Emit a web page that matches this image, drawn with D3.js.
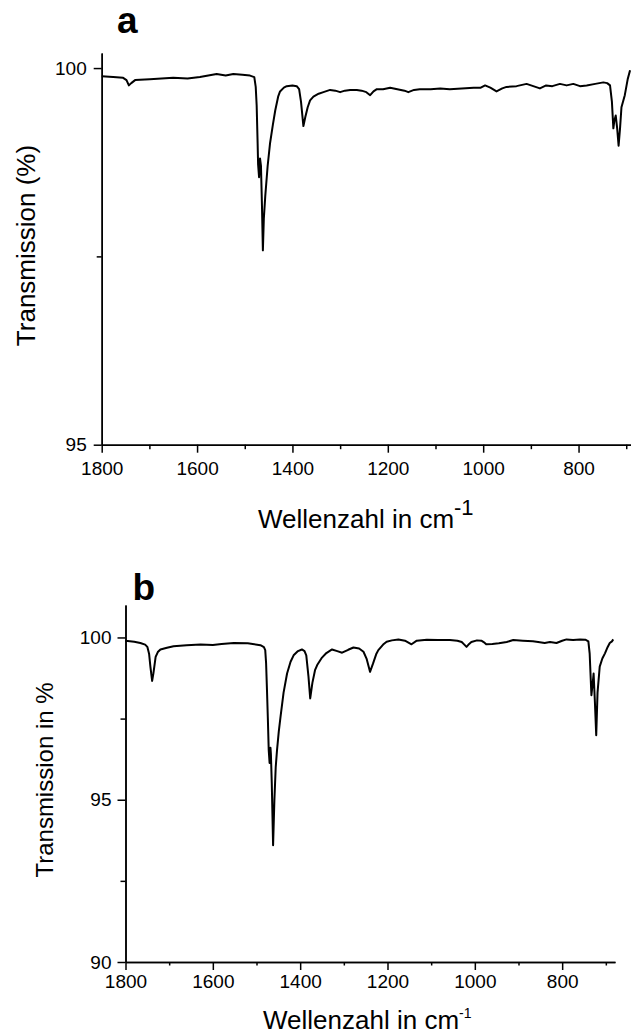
<!DOCTYPE html>
<html>
<head>
<meta charset="utf-8">
<script src="https://cdn.jsdelivr.net/npm/d3@7"></script>
<style>
  body { margin: 0; background: #fff; }
  svg { display: block; }
  text { font-family: "Liberation Sans", Arial, sans-serif; fill: #000; }
  .axis path, .axis line { stroke: #000; stroke-width: 1.5; }
  .axis text { font-size: 19px; }
</style>
</head>
<body>
<svg id="chart" width="631" height="1034"></svg>
<script>
// spectrum a (wavenumber, transmission %)
var waveA = [1800, 1776, 1755, 1748, 1743, 1738, 1730, 1699, 1650, 1620, 1594, 1559, 1540, 1524, 1505, 1489, 1480, 1477, 1475, 1473,
  1472, 1470, 1468, 1466, 1464, 1462, 1460, 1457, 1452, 1447, 1441, 1436, 1430, 1426, 1418, 1412, 1400, 1391, 1386, 1382,
  1377, 1373, 1368, 1363, 1356, 1345, 1335, 1321, 1310, 1300, 1290, 1279, 1265, 1255, 1245, 1237, 1230, 1223, 1210, 1195,
  1180, 1165, 1157, 1145, 1133, 1110, 1090, 1070, 1045, 1020, 1005, 996, 985, 972, 960, 951, 930, 909, 895, 881,
  868, 855, 839, 825, 811, 797, 783, 765, 748, 740, 734, 730, 727, 725, 722, 719, 716, 713, 710, 703, 697, 692];
var transA = [99.89, 99.88, 99.87, 99.84, 99.77, 99.80, 99.84, 99.85, 99.87, 99.86, 99.88, 99.92, 99.90, 99.92, 99.91, 99.90, 99.88, 99.75, 99.50, 99.0,
  98.72, 98.55, 98.80, 98.70, 98.2, 97.58, 98.0, 98.3, 98.7, 99.0, 99.25, 99.44, 99.62, 99.69, 99.74, 99.76, 99.77, 99.76, 99.72, 99.55,
  99.23, 99.35, 99.48, 99.57, 99.62, 99.66, 99.68, 99.71, 99.70, 99.68, 99.70, 99.71, 99.71, 99.70, 99.68, 99.64, 99.69, 99.72, 99.72, 99.74,
  99.72, 99.70, 99.68, 99.71, 99.72, 99.72, 99.73, 99.72, 99.73, 99.74, 99.74, 99.77, 99.74, 99.69, 99.73, 99.75, 99.76, 99.79, 99.76, 99.73,
  99.77, 99.76, 99.79, 99.77, 99.79, 99.76, 99.77, 99.79, 99.81, 99.80, 99.77, 99.55, 99.20, 99.30, 99.37, 99.2, 98.97, 99.2, 99.48, 99.64, 99.85, 99.97];

// spectrum b
var waveB = [1800, 1780, 1766, 1755, 1750, 1746, 1743, 1739, 1736, 1731, 1726, 1720, 1705, 1690, 1660, 1628, 1600, 1580, 1552, 1520,
  1491, 1483, 1480, 1478, 1476, 1474, 1472, 1470, 1468, 1467, 1465, 1462, 1459, 1456, 1453, 1449, 1445, 1438, 1430, 1422,
  1415, 1405, 1396, 1390, 1386, 1381, 1377, 1372, 1366, 1361, 1350, 1340, 1327, 1315, 1304, 1290, 1278, 1265, 1255, 1248,
  1240, 1233, 1226, 1221, 1210, 1202, 1190, 1175, 1160, 1145, 1133, 1110, 1085, 1057, 1040, 1030, 1024, 1019, 1013, 1008,
  995, 985, 979, 974, 960, 945, 927, 912, 890, 867, 855, 840, 828, 813, 800, 790, 775, 759, 747, 740,
  737, 733, 730, 728, 725, 722, 719, 714, 708, 702, 696, 691, 686, 683];
var transB = [99.90, 99.87, 99.83, 99.78, 99.71, 99.5, 99.1, 98.66, 98.9, 99.40, 99.55, 99.63, 99.68, 99.73, 99.76, 99.78, 99.77, 99.80, 99.83, 99.82,
  99.76, 99.70, 99.61, 99.2, 98.38, 97.5, 96.53, 96.13, 96.6, 96.4, 95.5, 93.60, 95.0, 96.0, 96.53, 97.1, 97.55, 98.3, 98.89, 99.25,
  99.45, 99.58, 99.63, 99.58, 99.45, 98.8, 98.12, 98.6, 98.99, 99.15, 99.38, 99.52, 99.63, 99.58, 99.53, 99.62, 99.69, 99.66, 99.56, 99.35,
  98.94, 99.2, 99.48, 99.61, 99.78, 99.87, 99.91, 99.94, 99.90, 99.79, 99.90, 99.93, 99.92, 99.92, 99.90, 99.86, 99.78, 99.71, 99.80, 99.86,
  99.91, 99.90, 99.85, 99.79, 99.80, 99.82, 99.86, 99.92, 99.90, 99.88, 99.86, 99.83, 99.86, 99.83, 99.90, 99.94, 99.92, 99.94, 99.93, 99.88,
  99.5, 98.22, 98.6, 98.89, 98.0, 96.99, 98.3, 99.10, 99.35, 99.51, 99.70, 99.83, 99.88, 99.94];

var xTicks = [1800, 1600, 1400, 1200, 1000, 800];
var xMinor = [1700, 1500, 1300, 1100, 900, 700];
var yTicksA = [95, 100], yMinorA = [97.5];
var yTicksB = [90, 95, 100], yMinorB = [92.5, 97.5];

var svg = d3.select("#chart");
var fmt = d3.format("d");

function drawPanel(p) {
  var x = d3.scaleLinear().domain(p.xDomain).range([p.left, p.right]);
  var y = d3.scaleLinear().domain(p.yDomain).range([p.bottom, p.top]);
  var g = svg.append("g");

  // minor ticks first, then the major axis on top
  g.append("g").attr("class", "axis").attr("transform", "translate(0," + p.bottom + ")")
    .call(d3.axisBottom(x).tickValues(xMinor).tickSize(p.minorLen).tickSizeOuter(0).tickFormat(""));
  g.append("g").attr("class", "axis").attr("transform", "translate(0," + p.bottom + ")")
    .call(d3.axisBottom(x).tickValues(xTicks).tickSize(8).tickSizeOuter(0).tickPadding(p.xPad).tickFormat(fmt));
  g.append("g").attr("class", "axis").attr("transform", "translate(" + p.left + ",0)")
    .call(d3.axisLeft(y).tickValues(p.yMinor).tickSize(5).tickSizeOuter(0).tickFormat(""));
  g.append("g").attr("class", "axis").attr("transform", "translate(" + p.left + ",0)")
    .call(d3.axisLeft(y).tickValues(p.yTicks).tickSize(8).tickSizeOuter(0).tickPadding(p.yPad).tickFormat(fmt));

  var line = d3.line().x(function(d) { return x(d[0]); }).y(function(d) { return y(d[1]); });
  g.append("path")
    .datum(d3.zip(p.wave, p.trans))
    .attr("d", line)
    .attr("fill", "none")
    .attr("stroke", "#000")
    .attr("stroke-width", 2)
    .attr("stroke-linejoin", "round");

  // panel letter
  g.append("text").attr("x", p.letterX).attr("y", p.letterY)
    .style("font-size", "37px").style("font-weight", "bold").text(p.letter);

  // y title
  g.append("text")
    .attr("transform", "translate(" + p.yTitleX + "," + p.yTitleY + ") rotate(-90)")
    .attr("text-anchor", "middle")
    .style("font-size", p.yTitleSize + "px")
    .text(p.yTitle);

  // x title with superscript
  var t = g.append("text").attr("x", p.xTitleX).attr("y", p.xTitleY).style("font-size", "26px");
  t.append("tspan").text("Wellenzahl in cm");
  t.append("tspan").attr("dy", -p.supRaise).style("font-size", p.supSize + "px").text("-1");
}

drawPanel({
  wave: waveA, trans: transA,
  xDomain: [1800, 690], yDomain: [95, 100.2],
  left: 101.7, right: 631, top: 53, bottom: 444.7,
  yTicks: yTicksA, yMinor: yMinorA, minorLen: 4.5, xPad: 9, yPad: 7,
  letter: "a", letterX: 117, letterY: 33,
  yTitle: "Transmission (%)", yTitleX: 35, yTitleY: 245.5, yTitleSize: 26,
  xTitleX: 258, xTitleY: 528, supRaise: 13, supSize: 22
});

drawPanel({
  wave: waveB, trans: transB,
  xDomain: [1800, 679], yDomain: [90, 101],
  left: 125.5, right: 615, top: 605, bottom: 962,
  yTicks: yTicksB, yMinor: yMinorB, minorLen: 3.5, xPad: 5, yPad: 6,
  letter: "b", letterX: 132.5, letterY: 600,
  yTitle: "Transmission in %", yTitleX: 53, yTitleY: 780, yTitleSize: 24,
  xTitleX: 263, xTitleY: 1029, supRaise: 11, supSize: 14
});
</script>
</body>
</html>
